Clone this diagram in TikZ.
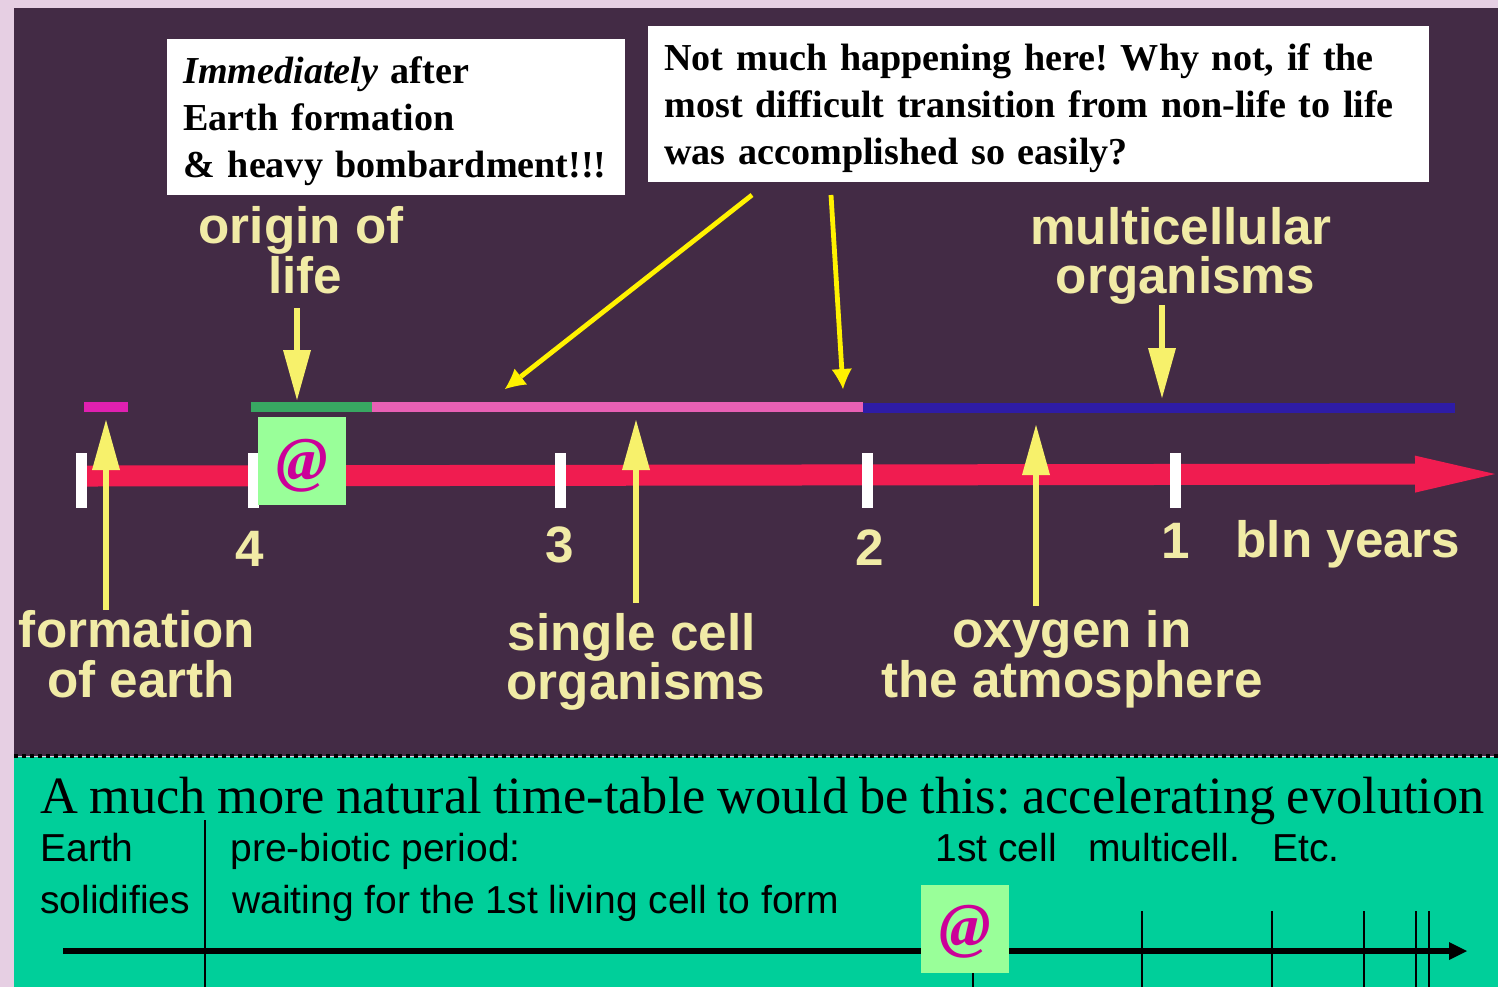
\documentclass[tikz,border=0pt]{standalone}
\usepackage{fontspec}
\setmainfont[WordSpace=0.87]{Liberation Serif}
\setsansfont{Liberation Sans}
\usetikzlibrary{arrows.meta,positioning}
\definecolor{page}{HTML}{E6CFE3}
\definecolor{night}{HTML}{432B45}
\definecolor{sea}{HTML}{00CF9A}
\definecolor{mint}{HTML}{99FF99}
\definecolor{orchid}{HTML}{CC0099}
\definecolor{wheat}{HTML}{F1EBA6}
\definecolor{lemon}{HTML}{F7F16B}
\definecolor{crimson}{HTML}{F01C50}
\definecolor{barearth}{HTML}{E020B0}
\definecolor{barlife}{HTML}{38A862}
\definecolor{barpink}{HTML}{E860B4}
\definecolor{barblue}{HTML}{2E1CA6}
\tikzset{
  callout/.style={fill=white,anchor=north west,align=left,inner xsep=8pt,inner ysep=0pt,
    font=\fontsize{19.05}{23.4}\selectfont\bfseries},
  dimlabel/.style={font=\sffamily\bfseries\fontsize{25.6}{24.8}\selectfont,text=wheat,inner sep=0pt},
  plainlabel/.style={font=\sffamily\fontsize{19.5}{19}\selectfont,text=black,inner sep=0pt,anchor=base west},
  atbox/.style={fill=mint,minimum width=44pt,minimum height=44pt,inner sep=0pt,
    font=\fontsize{31}{31}\selectfont\bfseries\itshape,text=orchid},
  beigearr/.style={draw=lemon,line width=3.4pt,-{Triangle[length=25pt,width=14pt,line width=0pt]}},
  brightarr/.style={draw=yellow,line width=2.4pt,-{Latex[length=10pt,width=10pt,line width=0pt]}},
  tick/.style={draw=white,line width=5.5pt},
  thin mark/.style={draw=black,line width=.7pt},
  bar/.style={line width=5pt},
}
\begin{document}
\frenchspacing
\begin{tikzpicture}[x=.5pt,y=-.5pt]
  \useasboundingbox (0,0) rectangle (1498,987);
  \fill[page] (0,0) rectangle (1498,987);
  \fill[night] (14,8) rectangle (1498,756);
  \fill[sea] (14,757) rectangle (1498,987);
  \draw[black,line width=2pt,dotted] (14,756) -- (1498,756);
  % upper time line
  \draw[crimson,line width=10.5pt,-{Triangle[length=40pt,width=18.5pt,line width=0pt]}] (87,476) -- (1495,474);
  \foreach \xa in {81,253,560,867,1175} \draw[tick] (\xa,453) -- (\xa,508);
  \draw[bar,draw=barearth] (84,407) -- (128,407);
  \draw[bar,draw=barlife] (251,407) -- (372,407);
  \draw[bar,draw=barpink] (372,407) -- (863,407);
  \draw[bar,draw=barblue] (863,408) -- (1455,408);
  \node[atbox] (atone) at (302,461) {\smash{\raisebox{-9.5pt}{@}}};
  % numbers
  \node[dimlabel] at (250,549) {4};
  \node[dimlabel] at (560,545) {3};
  \node[dimlabel] at (870,548) {2};
  \node[dimlabel] at (1176,541) {1};
  \node[dimlabel] at (1348,544) {bln years};
  % labels
  \node[dimlabel,align=center] (origin) at (301,250) {origin of\\\,life};
  \node[dimlabel,align=center] (multi) at (1181,256) {multicellular\\\,organisms};
  \node[dimlabel,align=center] (earth) at (137,654) {formation\\\,of earth};
  \node[dimlabel,align=center] (single) at (636,662) {single cell\,\\organisms};
  \node[dimlabel,align=center] (oxygen) at (1072,659) {oxygen in\\the atmosphere};
  % arrows to the bars
  \coordinate (earthtip) at (106,420);
  \coordinate (origintip) at (297,400);
  \coordinate (singletip) at (636,420);
  \coordinate (oxygentip) at (1036,425);
  \coordinate (multitip) at (1162,398);
  \draw[beigearr] (106,610) -- (earthtip);
  \draw[beigearr] (297,308) -- (origintip);
  \draw[beigearr] (636,603) -- (singletip);
  \draw[beigearr] (1036,606) -- (oxygentip);
  \draw[beigearr] (1162,305) -- (multitip);
  % callouts
  \node[callout,minimum width=229pt,minimum height=78pt,text width=213pt] (immediate) at (167,39)
    {\rule{0pt}{17pt}\textit{Immediately} after\\Earth formation\\\& heavy bombardment!!!};
  \node[callout,minimum width=390.5pt,minimum height=78pt,text width=374.5pt] (why) at (648,26)
    {\rule{0pt}{17pt}Not much happening here! Why not, if the\\most difficult transition from non-life to life\\was accomplished so easily?};
  \coordinate (pinktip) at (505,389);
  \coordinate (endtip) at (843,389);
  \draw[brightarr] (752,195) -- (pinktip);
  \draw[brightarr] (831,195) -- (endtip);
  % lower time line
  \node[anchor=base west,inner sep=0pt,font=\fontsize{26.2}{26}\selectfont] (natural) at (40,813)
    {A much more natural time-table would be this: accelerating evolution};
  \node[plainlabel] (solid) at (40,861) {Earth};
  \node[plainlabel] (solidb) at (40,913) {solidifies};
  \node[plainlabel] (prebio) at (230,861) {pre-biotic period:};
  \node[plainlabel] (waiting) at (232,913) {waiting for the 1st living cell to form};
  \node[plainlabel] (firstcell) at (935,861) {1st cell};
  \node[plainlabel] (multicell) at (1088,861) {multicell.};
  \node[plainlabel] (etc) at (1272,861) {Etc.};
  \draw[thin mark] (205,820) -- (205,987);
  \draw[black,line width=3pt,-{Triangle[length=9pt,width=9pt,line width=0pt]}] (63,951) -- (1467,951);
  \foreach \xb in {1142,1272,1364,1416,1429} \draw[thin mark] (\xb,911) -- (\xb,987);
  \node[atbox] (attwo) at (965,929) {\smash{\raisebox{-8.5pt}{@}}};
  \draw[thin mark] (973,973) -- (973,987);
\end{tikzpicture}
\end{document}
